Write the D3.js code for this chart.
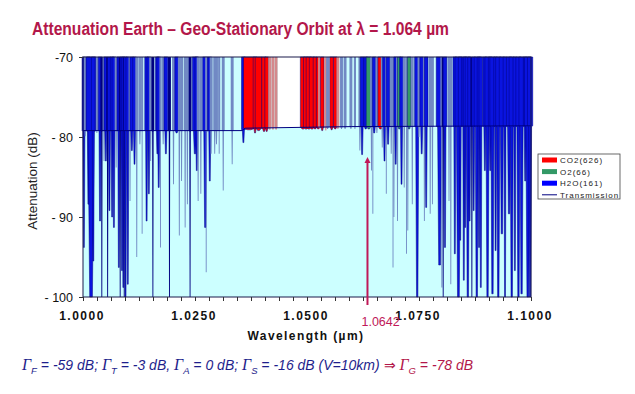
<!DOCTYPE html>
<meta charset="utf-8">
<style>
body { margin: 0; background: #fff; }
svg { display: block; font-family: Arial, "Liberation Sans", sans-serif; }
</style>
<svg width="635" height="394"></svg>
<script src="https://d3js.org/d3.v7.min.js"></script>
<script>

// absorption lines: centre (µm), deepest point (dB), width (nm), gas
var lineWl = [
  1.0002, 1.0005, 1.0012, 1.0018, 1.0023, 1.0031, 1.0038, 1.0042, 1.0047, 1.0051,
  1.0055, 1.0059, 1.0065, 1.0069, 1.0074, 1.0080, 1.0083, 1.0087, 1.0090, 1.0092,
  1.0095, 1.0100, 1.0105, 1.0109, 1.0115, 1.0120, 1.0127, 1.0132, 1.0142, 1.0147,
  1.0151, 1.0156, 1.0166, 1.0169, 1.0173, 1.0179, 1.0185, 1.0193, 1.0202, 1.0209,
  1.0215, 1.0220, 1.0228, 1.0233, 1.0239, 1.0250, 1.0254, 1.0257, 1.0263, 1.0273,
  1.0275, 1.0283, 1.0286, 1.0294, 1.0298, 1.0304, 1.0313, 1.0333, 1.0358, 1.0371,
  1.0384, 1.0392, 1.0404, 1.0410, 1.0417, 1.0424, 1.0431, 1.0491, 1.0498, 1.0504,
  1.0511, 1.0518, 1.0525, 1.0528, 1.0534, 1.0542, 1.0546, 1.0555, 1.0563, 1.0569,
  1.0577, 1.0585, 1.0598, 1.0607, 1.0618, 1.0623, 1.0631, 1.0638, 1.0644, 1.0647,
  1.0650, 1.0656, 1.0664, 1.0668, 1.0673, 1.0677, 1.0681, 1.0688, 1.0692, 1.0694,
  1.0698, 1.0702, 1.0706, 1.0711, 1.0717, 1.0722, 1.0725, 1.0728, 1.0735, 1.0746,
  1.0750, 1.0756, 1.0762, 1.0766, 1.0775, 1.0780, 1.0796, 1.0801, 1.0804, 1.0808,
  1.0817, 1.0821, 1.0830, 1.0838, 1.0842, 1.0850, 1.0853, 1.0859, 1.0863, 1.0868,
  1.0872, 1.0879, 1.0884, 1.0888, 1.0897, 1.0903, 1.0909, 1.0914, 1.0921, 1.0927,
  1.0935, 1.0942, 1.0951, 1.0957, 1.0964, 1.0972, 1.0979, 1.0987, 1.0993, 1.0998
];
var lineDepth = [
  -93.8, -79.9, -88.4, -100, -95.5, -79.5, -90.5, -100, -83, -83,
  -100, -89.2, -90, -91.3, -83.8, -96.3, -100, -96.7, -98.8, -100,
  -100, -98.4, -88, -81.7, -83.4, -95, -80.9, -92.1, -90.5, -87.1,
  -83, -100, -82.1, -86.3, -93.8, -80.9, -82.1, -100, -85.9, -79.5,
  -92.3, -85.5, -91.3, -88.4, -100, -82.1, -84.2, -88, -87.1, -91.3,
  -96.9, -85.5, -82.1, -82.1, -80.9, -82.1, -86.7, -83.4, -80.7, -79.1,
  -79.5, -79.2, -79.3, -79.3, -79.1, -79.1, -79.1, -79, -79, -79,
  -79, -79, -79, -79, -79.2, -79.2, -79, -79.1, -79, -79,
  -79, -79, -79, -79, -81.7, -82.2, -79, -79, -84.2, -89.6,
  -79.5, -79.5, -79, -81.3, -83, -87.1, -80.9, -82.1, -96.3, -90,
  -83.4, -90.5, -79, -85.9, -86.3, -94.6, -91.7, -79, -88.4, -100,
  -80, -82.1, -90.5, -88.8, -89.6, -88.4, -96, -98.8, -100, -93.8,
  -88, -98.4, -94.6, -100, -92.9, -97.9, -91.3, -100, -90.5, -100,
  -89.2, -100, -93.8, -98.8, -84.2, -100, -84.2, -99.6, -94.2, -100,
  -92.1, -100, -89.6, -100, -96.7, -100, -99.6, -85.5, -100, -100
];
var lineWidth = [
  0.45, 0.33, 0.45, 1.34, 0.45, 0.22, 0.45, 0.33, 0.33, 0.45,
  0.33, 0.45, 0.45, 0.45, 0.33, 0.45, 0.33, 0.45, 0.45, 0.33,
  0.45, 0.45, 0.33, 0.45, 0.45, 0.33, 0.33, 0.22, 0.45, 0.45,
  0.33, 0.33, 0.45, 0.45, 0.22, 0.33, 0.45, 0.33, 0.33, 0.45,
  0.33, 0.33, 0.33, 0.33, 0.33, 0.67, 0.45, 0.33, 0.33, 0.67,
  0.22, 0.45, 0.33, 0.33, 0.33, 0.22, 0.33, 0.33, 0.45, 1.56,
  0.45, 0.89, 0.56, 0.45, 0.33, 0.33, 0.33, 0.67, 0.67, 0.67,
  0.67, 0.45, 0.45, 0.33, 0.45, 0.33, 0.33, 0.45, 0.45, 0.33,
  0.33, 0.33, 0.33, 0.22, 0.33, 0.45, 0.45, 0.67, 0.33, 0.22,
  0.45, 0.33, 0.67, 0.33, 0.45, 0.22, 0.45, 0.33, 0.22, 0.33,
  0.45, 0.33, 0.45, 0.45, 0.33, 0.22, 0.33, 0.45, 0.33, 0.67,
  0.33, 0.45, 0.33, 0.45, 0.33, 0.33, 0.89, 0.33, 0.33, 0.45,
  0.33, 0.33, 0.45, 0.89, 0.45, 0.45, 0.45, 0.67, 0.45, 0.33,
  0.45, 0.67, 0.45, 0.45, 0.45, 0.67, 0.45, 0.67, 0.45, 0.67,
  0.67, 0.45, 0.67, 0.67, 0.45, 0.67, 0.67, 0.45, 0.89, 0.67
];
var lineGas = ("HHHHHHHHHH HHHHHHHHHH HHHHHHHHHH HHHHHHHHHH HHHHHHHHHH " +
               "HHHHHHHHHC CCCCCCCCCC CCCCCCHCCC HHHHHHHOHH HHCHHHHHHH " +
               "HHOHHHHOHH HHHHHHHHHH HHHHHHHHHH HHHHHHHHHH HHHHHHHHHH").replace(/ /g, "").split("");

// transmission curve
var transWl = [1.0000, 1.0355, 1.0362, 1.0600, 1.1000];
var transDb = [-79.2, -79.2, -78.9, -78.7, -78.6];

var xTicks = [1.0000, 1.0250, 1.0500, 1.0750, 1.1000];
var yTicks = [-70, -80, -90, -100];
var legendNames = ["CO2(626)", "O2(66)", "H2O(161)", "Transmission"];
var clearBand = [1.0435, 1.0489];
var markWl = 1.0635, markLabel = "1.0642";

var svg = d3.select("svg");
var crimson = "#b3174a", navy = "#000080";

var x = d3.scaleLinear().domain([1.0, 1.1]).range([83, 531]);
var y = d3.scaleLinear().domain([-70, -100]).range([57, 297]);
var trans = d3.scaleLinear().domain(transWl).range(transDb);
var gasColor = { C: "#ff0000", O: "#339966", H: "#0a14e0" };

var lines = lineWl.map(function(wl, i) {
  return { wl: wl, depth: lineDepth[i], w: lineWidth[i], gas: lineGas[i] };
});

function wpx(d) { return x(1 + d.w / 1000) - x(1); }
function isThin(d) { return wpx(d) < 1.8; }

function fillOf(d) {
  if (d.gas == "O") return gasColor.O;
  if (d.gas == "C") return isThin(d) ? "#d4898c" : gasColor.C;
  if (isThin(d)) return d.depth <= -99 ? navy : "#7189c4";
  return gasColor.H;
}

// line profile: saturated (clipped) part above the transmission level is wider,
// then it narrows down to the deepest point
function linePath(d) {
  var cx = x(d.wl), hw = wpx(d) / 2,
      ht = hw * 1.55 + 0.3,
      ty = y(trans(d.wl)), by = y(d.depth),
      bw = Math.max(0.45, hw * 0.45);
  return "M" + (cx - ht) + "," + y(-70) + "H" + (cx + ht) + "V" + ty +
         "L" + (cx + hw) + "," + (ty + 1) +
         "L" + (cx + bw) + "," + by + "H" + (cx - bw) +
         "L" + (cx - hw) + "," + (ty + 1) + "L" + (cx - ht) + "," + ty + "Z";
}

// title
svg.append("text")
    .attr("x", 32).attr("y", 35)
    .attr("font-family", "'Liberation Sans Narrow', 'Arial Narrow', Arial, sans-serif")
    .attr("font-weight", "bold").attr("font-size", 18)
    .attr("fill", crimson)
    .attr("textLength", 417).attr("lengthAdjust", "spacingAndGlyphs")
    .text("Attenuation Earth \u2013 Geo-Stationary Orbit at \u03bb = 1.064 \u00b5m");

// plot background
svg.append("rect")
    .attr("x", x(1.0)).attr("y", y(-70))
    .attr("width", x(1.1) - x(1.0)).attr("height", y(-100) - y(-70))
    .attr("fill", "#ccffff");

svg.append("rect")
    .attr("x", x(clearBand[0])).attr("y", y(-70))
    .attr("width", x(clearBand[1]) - x(clearBand[0]))
    .attr("height", y(trans(clearBand[0])) - y(-70))
    .attr("fill", "#ffffff");

// absorption lines
svg.append("g")
  .selectAll("path")
  .data(lines)
  .enter().append("path")
    .attr("d", linePath)
    .attr("fill", fillOf)
    .attr("stroke", function(d) { return isThin(d) ? "none" : navy; })
    .attr("stroke-width", 0.5);

// transmission
svg.append("path")
    .datum(transWl)
    .attr("fill", "none")
    .attr("stroke", navy)
    .attr("stroke-width", 1)
    .attr("d", d3.line().x(function(d) { return x(d); }).y(function(d, i) { return y(transDb[i]); }));

// frame
svg.append("rect")
    .attr("x", x(1.0)).attr("y", y(-70))
    .attr("width", x(1.1) - x(1.0)).attr("height", y(-100) - y(-70))
    .attr("fill", "none").attr("stroke", "#1a1a4a").attr("stroke-width", 1);

// x axis: minor ticks every 1/32 of the range, labels at xTicks
var xMinor = d3.range(0, 33).map(function(i) { return 1.0 + i * 0.1 / 32; });
var xAxis = svg.append("g")
    .attr("transform", "translate(0," + y(-100) + ")")
    .call(d3.axisBottom(x).tickValues(xMinor).tickSize(4).tickFormat(""));
xAxis.select(".domain").remove();
xAxis.selectAll("line").attr("stroke", "#333");

svg.append("g").selectAll("text")
  .data(xTicks)
  .enter().append("text")
    .attr("x", function(d) { return x(d) - 1; })
    .attr("y", 320)
    .attr("text-anchor", "middle")
    .attr("font-weight", "bold").attr("font-size", 12)
    .attr("letter-spacing", 1.5)
    .attr("fill", "#111")
    .text(function(d) { return d3.format(".4f")(d); });

svg.append("text")
    .attr("x", 306).attr("y", 340)
    .attr("text-anchor", "middle")
    .attr("font-weight", "bold").attr("font-size", 12)
    .attr("letter-spacing", 1.4)
    .attr("fill", "#111")
    .text("Wavelength (\u00b5m)");

// y axis
var yAxis = svg.append("g")
    .attr("transform", "translate(" + x(1.0) + ",0)")
    .call(d3.axisLeft(y).tickValues(yTicks).tickSize(4).tickPadding(6)
      .tickFormat(function(d) { return d == -70 ? "-70" : "- " + (-d); }));
yAxis.select(".domain").remove();
yAxis.selectAll("line").attr("stroke", "#333");
yAxis.selectAll("text").attr("font-size", 12.5).attr("font-family", "Arial, 'Liberation Sans', sans-serif").attr("fill", "#111");

svg.append("text")
    .attr("transform", "translate(37,181) rotate(-90)")
    .attr("text-anchor", "middle")
    .attr("font-size", 13.5)
    .attr("fill", "#222")
    .text("Attenuation (dB)");

// marker arrow at the laser line
svg.append("defs").append("marker")
    .attr("id", "head").attr("viewBox", "0 0 10 10")
    .attr("refX", 5).attr("refY", 5)
    .attr("markerWidth", 3).attr("markerHeight", 3.5)
    .attr("orient", "auto")
  .append("path").attr("d", "M0,0L10,5L0,10Z").attr("fill", "#c01858");

svg.append("line")
    .attr("x1", x(markWl)).attr("x2", x(markWl))
    .attr("y1", 305).attr("y2", 160)
    .attr("stroke", "#c01858").attr("stroke-width", 2)
    .attr("marker-end", "url(#head)");

svg.append("text")
    .attr("x", x(markWl) - 6).attr("y", 326)
    .attr("font-size", 12.5)
    .attr("fill", "#c01858")
    .text(markLabel);

// legend
var legendColor = [gasColor.C, gasColor.O, "#0000ff", navy];
var lg = svg.append("g");
lg.append("rect")
    .attr("x", 538).attr("y", 154).attr("width", 82).attr("height", 45)
    .attr("fill", "#fff").attr("stroke", "#444").attr("stroke-width", 0.8);
legendNames.forEach(function(name, i) {
  var ly = 160 + i * 11.6;
  if (i < 3) {
    lg.append("rect").attr("x", 542).attr("y", ly - 2.5).attr("width", 15).attr("height", 5)
      .attr("fill", legendColor[i]);
  } else {
    lg.append("line").attr("x1", 542).attr("x2", 557).attr("y1", ly).attr("y2", ly)
      .attr("stroke", legendColor[i]).attr("stroke-width", 1);
  }
  lg.append("text")
    .attr("x", 560).attr("y", ly + 3)
    .attr("font-size", 8).attr("letter-spacing", 1)
    .attr("fill", "#222")
    .text(name);
});

// summary line under the chart
var summary = [
  { sym: "F", rest: " = -59 dB; ", color: "#1e1e8c" },
  { sym: "T", rest: " = -3 dB, ", color: "#1e1e8c" },
  { sym: "A", rest: " = 0 dB; ", color: "#1e1e8c" },
  { sym: "S", rest: " = -16 dB (V=10km) ", color: "#1e1e8c" },
  { pre: "\u21d2 ", sym: "G", rest: " = -78 dB", color: crimson }
];
var st = svg.append("text")
    .attr("x", 22).attr("y", 370)
    .attr("font-style", "italic").attr("font-size", 14);
summary.forEach(function(s) {
  if (s.pre) st.append("tspan").attr("fill", s.color).attr("font-style", "normal").text(s.pre);
  st.append("tspan").attr("fill", s.color)
    .attr("font-family", "'Liberation Serif', 'Times New Roman', serif").attr("font-size", 16)
    .text("\u0393");
  st.append("tspan").attr("fill", s.color).attr("font-size", 9.5).attr("dy", 4).text(s.sym);
  st.append("tspan").attr("fill", s.color).attr("dy", -4).text(s.rest);
});

</script>
